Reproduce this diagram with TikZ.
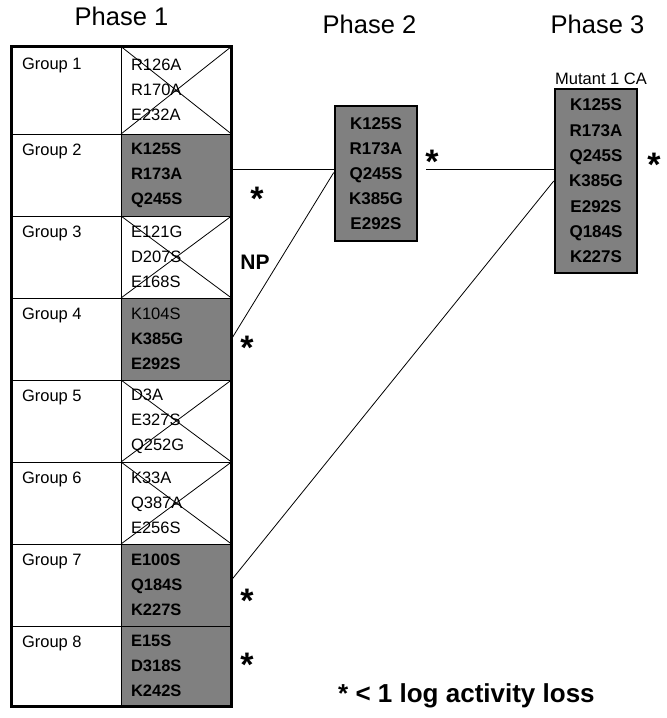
\documentclass[tikz,border=0pt]{standalone}
\usepackage{fontspec}
\setmainfont{Liberation Sans}
\usepackage{xcolor}
\usetikzlibrary{positioning}

\definecolor{cellgray}{RGB}{128,128,128}

\begin{document}
\begin{tikzpicture}[x=1pt, y=-1pt,
    phase/.style={font=\fontsize{25.5}{25.5}\selectfont, anchor=base, inner sep=0pt},
    grp/.style={font=\fontsize{16.5}{25}\selectfont, anchor=north west, inner xsep=10.5pt, inner ysep=9.5pt, outer sep=0pt},
    cell/.style={draw, line width=0.8pt, anchor=north west, outer sep=0pt, minimum width=110.5pt, minimum height=82pt,
                 text width=90.5pt, inner xsep=10pt, inner ysep=0pt, align=left, font=\fontsize{16.5}{25}\selectfont},
    hit/.style={cell, fill=cellgray, font=\fontsize{16.5}{25}\selectfont\bfseries},
    pbox/.style={draw, line width=2.5pt, fill=cellgray, minimum width=82pt, inner sep=0pt, align=center,
                 font=\fontsize{17}{25}\selectfont\bfseries},
    ast/.style={font=\fontsize{34}{34}\selectfont\bfseries, anchor=base, inner sep=0pt},
    rule/.style={line width=0.8pt},
    link/.style={line width=0.8pt}]
    \useasboundingbox (0,0) rectangle (667,718);

    % phase titles
    \node[phase] (t1) at (121.5,25) {Phase 1};
    \node[phase] (t2) at (369.5,33) {Phase 2};
    \node[phase] (t3) at (597.5,33) {Phase 3};

    % phase 1 table
    \node[cell, minimum height=87.5pt] (m1) at (121,46.5) {R126A\\R170A\\E232A};
    \node[hit] (m2) at (121,134) {K125S\\R173A\\Q245S};
    \node[cell] (m3) at (121,216) {E121G\\D207S\\E168S};
    \node[hit] (m4) at (121,298) {{\mdseries K104S}\\K385G\\E292S};
    \node[cell] (m5) at (121,380) {D3A\\E327S\\Q252G};
    \node[cell] (m6) at (121,462) {K33A\\Q387A\\E256S};
    \node[hit] (m7) at (121,544) {E100S\\Q184S\\K227S};
    \node[hit, minimum height=80.5pt] (m8) at (121,626) {E15S\\D318S\\K242S};

    \draw[rule] (m1.north west) -- (m1.south east) (m1.south west) -- (m1.north east);
    \draw[rule] (m3.north west) -- (m3.south east) (m3.south west) -- (m3.north east);
    \draw[rule] (m5.north west) -- (m5.south east) (m5.south west) -- (m5.north east);
    \draw[rule] (m6.north west) -- (m6.south east) (m6.south west) -- (m6.north east);

    \node[draw, line width=3pt, outer sep=0pt, inner sep=0pt, anchor=north west,
          minimum width=220pt, minimum height=660pt] (tbl) at (11.5,46.5) {};

    \draw[rule] (tbl.west |- m2.north) -- (m2.north west);
    \draw[rule] (tbl.west |- m3.north) -- (m3.north west);
    \draw[rule] (tbl.west |- m4.north) -- (m4.north west);
    \draw[rule] (tbl.west |- m5.north) -- (m5.north west);
    \draw[rule] (tbl.west |- m6.north) -- (m6.north west);
    \draw[rule] (tbl.west |- m7.north) -- (m7.north west);
    \draw[rule] (tbl.west |- m8.north) -- (m8.north west);

    \node[grp] (g1) at ([yshift=-1.5pt]tbl.north west) {Group 1};
    \node[grp] (g2) at (tbl.west |- m2.north) {Group 2};
    \node[grp] (g3) at (tbl.west |- m3.north) {Group 3};
    \node[grp] (g4) at (tbl.west |- m4.north) {Group 4};
    \node[grp] (g5) at (tbl.west |- m5.north) {Group 5};
    \node[grp] (g6) at (tbl.west |- m6.north) {Group 6};
    \node[grp] (g7) at (tbl.west |- m7.north) {Group 7};
    \node[grp] (g8) at (tbl.west |- m8.north) {Group 8};

    % phase 2 and phase 3
    \node[pbox, minimum height=135pt] (p2) at (376,173.5) {K125S\\R173A\\Q245S\\K385G\\E292S};
    \node[pbox, minimum height=184pt, font=\fontsize{17}{25.3}\selectfont\bfseries] (p3) at (596,181)
        {K125S\\R173A\\Q245S\\K385G\\E292S\\Q184S\\K227S};
    \node[anchor=base, inner sep=0pt, font=\fontsize{16.5}{16.5}\selectfont] (mut) at ([xshift=5pt, yshift=3pt]p3.north) {Mutant 1 CA};

    % connectors
    \coordinate (p2in) at ([yshift=4.5pt]p2.west);
    \draw[link] (m2.east |- p2in) -- (p2in);
    \draw[link] (m4.east) -- ([yshift=1pt]p2.west);
    \draw[link] ([xshift=8pt]p2in -| p2.east) -- (p3.west |- p2in);
    \draw[link] ([yshift=5pt]m7.east) -- (p3.west);

    % marks
    \node[ast] (s2) at (257,210) {*};
    \node[ast] (s4) at (247,359) {*};
    \node[ast] (s7) at (247,612) {*};
    \node[ast] (s8) at (247,676) {*};
    \node[ast] (sp2) at (432,173) {*};
    \node[ast] (sp3) at (654,176) {*};
    \node[font=\fontsize{21}{21}\selectfont\bfseries, inner sep=0pt] (np) at (255,262) {NP};

    \node[anchor=base west, inner sep=0pt, font=\fontsize{26}{26}\selectfont\bfseries] (key) at (338,702)
        {* < 1 log activity loss};
\end{tikzpicture}
\end{document}
